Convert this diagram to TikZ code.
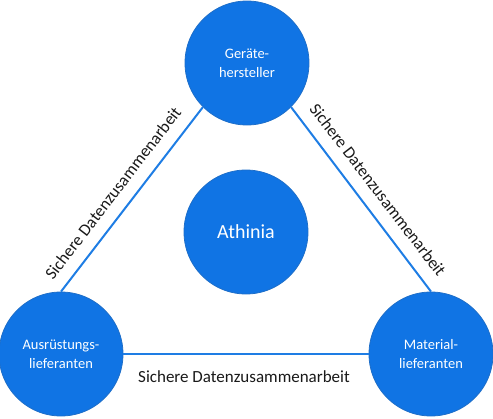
\documentclass[tikz,border=0pt]{standalone}
\usepackage{fontspec}
\setmainfont{Carlito}
\definecolor{circblue}{RGB}{16,116,228}
\definecolor{edgeblue}{RGB}{30,110,200}
\definecolor{lineblue}{RGB}{30,125,228}
\definecolor{labelgray}{RGB}{25,25,25}
\begin{document}
\begin{tikzpicture}[x=1pt,y=-1pt,
  party/.style={circle, minimum size=124pt, inner sep=0pt, fill=circblue, draw=edgeblue, line width=0.8pt,
     text=white, align=center, font=\fontsize{14.5}{19}\selectfont},
  center/.style={party, font=\fontsize{20}{24}\selectfont},
  link/.style={draw=lineblue, line width=2pt},
  linklabel/.style={text=labelgray, font=\fontsize{17}{20}\selectfont, inner sep=0pt}
]
\useasboundingbox (0,0) rectangle (493,418);
\node[party] (top) at (247,63) {Geräte-\\hersteller};
\node[party] (bl) at (61,354) {Ausrüstungs-\\lieferanten};
\node[party] (br) at (431,354) {Material-\\lieferanten};
\node[center] (ath) at (246,232) {Athinia};
\draw[link] (top.225) -- (bl.90);
\draw[link] (top.315) -- (br.90);
\draw[link] (bl.east) -- (br.west);
\node[linklabel, rotate=52.5] (lab1) at (113,193) {Sichere Datenzusammenarbeit};
\node[linklabel, rotate=-52.5] (lab2) at (378,190) {Sichere Datenzusammenarbeit};
\node[linklabel] (lab3) at (244,377) {Sichere Datenzusammenarbeit};
\end{tikzpicture}
\end{document}
